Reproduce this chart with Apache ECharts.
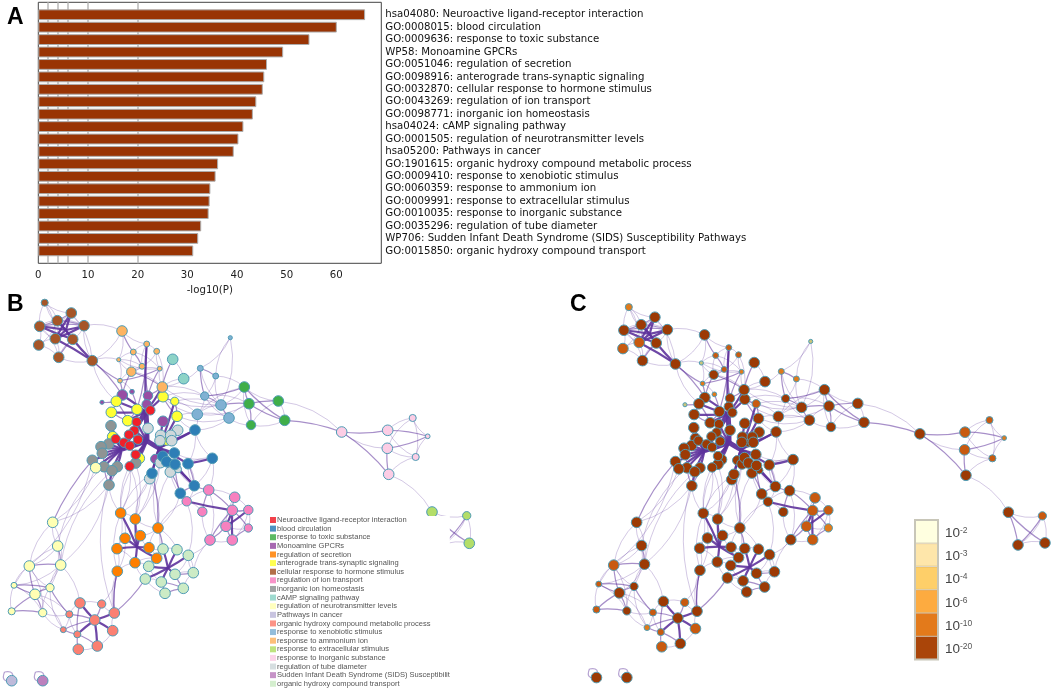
<!DOCTYPE html>
<html><head><meta charset="utf-8">
<style>html,body{margin:0;padding:0;background:#fff}#c{width:1052px;height:690px}</style>
<script src="https://cdn.jsdelivr.net/npm/echarts@6/dist/echarts.min.js"></script>
</head><body><div id="c"></div>
<script>
// ---------- Panel A ----------
const termLabels = [
'hsa04080: Neuroactive ligand-receptor interaction','GO:0008015: blood circulation','GO:0009636: response to toxic substance','WP58: Monoamine GPCRs','GO:0051046: regulation of secretion','GO:0098916: anterograde trans-synaptic signaling','GO:0032870: cellular response to hormone stimulus','GO:0043269: regulation of ion transport','GO:0098771: inorganic ion homeostasis','hsa04024: cAMP signaling pathway','GO:0001505: regulation of neurotransmitter levels','hsa05200: Pathways in cancer','GO:1901615: organic hydroxy compound metabolic process','GO:0009410: response to xenobiotic stimulus','GO:0060359: response to ammonium ion','GO:0009991: response to extracellular stimulus','GO:0010035: response to inorganic substance','GO:0035296: regulation of tube diameter','WP706: Sudden Infant Death Syndrome (SIDS) Susceptibility Pathways','GO:0015850: organic hydroxy compound transport'];
const logP = [65.8,60.1,54.6,49.3,46.05,45.5,45.2,43.9,43.2,41.3,40.3,39.35,36.2,35.7,34.65,34.5,34.3,32.8,32.2,31.2];
const thresholds = [2,4,6,10,20];
const xTicks = [0,10,20,30,40,50,60];

// ---------- Network legend ----------
const clusterNames = ['Neuroactive ligand-receptor interaction','blood circulation','response to toxic substance','Monoamine GPCRs','regulation of secretion','anterograde trans-synaptic signaling','cellular response to hormone stimulus','regulation of ion transport','inorganic ion homeostasis','cAMP signaling pathway','regulation of neurotransmitter levels','Pathways in cancer','organic hydroxy compound metabolic process','response to xenobiotic stimulus','response to ammonium ion','response to extracellular stimulus','response to inorganic substance','regulation of tube diameter','Sudden Infant Death Syndrome (SIDS) Susceptibilit','organic hydroxy compound transport'];
const clusterColors = ['#f0202a','#2e7eb6','#3fae49','#984ea3','#ff7f00','#ffff33','#a65628','#f781bf','#8f9494','#8dd3c7','#ffffb3','#bebada','#fb8072','#80b1d3','#fdb462','#b3de69','#fccde5','#cfd8da','#bc80bd','#ccebc5'];

// ---------- Term nodes: [x, y, gene-set size, significance level] by cluster ----------
const monoamine = [[122.3,395,9,5],[148,395.7,8,5],[132,391.7,4,3],[146.7,404.3,8,5],[163,421.3,9,5],[102,402.3,3.5,1],[155.3,459,8,5]];
const synaptic = [[116.3,401.3,9,5],[163,396.7,9,5],[174.7,401.3,7,4],[111.3,412.3,9,5],[137,409.3,9,5],[177,416.3,9,5],[127.7,420.7,9,5],[112.7,436.7,9,5],[166.7,440,9,5],[139.3,458.3,9,5]];
const brownHormone = [[44.7,302.7,6,3],[71.3,313,9,5],[84,325.7,9,5],[57.3,320.7,9,5],[39.7,326.3,9,5],[55.3,338.7,9,4],[72.7,339.3,9,5],[38.7,345,9,4],[58.7,357.3,9,5],[92.3,360.7,9,5]];
const ammonium = [[122,331,9,5],[146.7,344,5,4],[133.3,352,5,4],[156.7,351.3,5,4],[118.7,359.7,3.5,1],[159.7,368.7,4,3],[142,366.3,5,4],[131.3,371.7,8,5],[120,380.7,4,3],[162.3,387,9,5]];
const camp = [[172.7,359.3,9,5],[183.7,378.7,9,5]];
const xenobiotic = [[230.3,337.7,3.5,1],[200.3,368.3,5,3],[215.7,376,5,3],[204.7,396,7,5],[221,405,9,5],[197.3,414.3,9,5],[229,418,9,5]];
const toxic = [[244.3,387,9,5],[249,403.7,9,5],[251,425,8,5],[278.3,401,9,5],[284.7,420.3,9,5]];
const ionHomeo = [[111,425.7,9,5],[108.7,444,9,5],[101,446.7,9,5],[102.3,453.3,9,5],[92.3,460.3,9,5],[104,466.7,9,5],[117.3,466.7,9,5],[112,470.7,9,5],[135.7,463,9,5],[109,485,9,5]];
const ligand = [[150.3,410.3,8,5],[136.7,422,8,5],[134.3,430.7,8,5],[129,434.7,8,5],[138,439.7,8,5],[115.7,439,8,5],[124,442.7,8,5],[129.7,445.7,8,5],[135.7,454.7,8,5],[129.7,466.3,8,5]];
const tube = [[148,428.3,9,5],[177.7,430.3,9,5],[160.7,435.3,9,5],[170.7,435.3,9,5],[160,440.7,9,5],[171.7,440.7,9,5],[160.3,462.7,9,5],[170.3,472,9,5],[178,469.3,6,5],[149.7,478.7,9,5]];
const neurotrans = [[95.7,467.7,9,5],[52.7,522.3,9,5],[57.7,546,9,5],[29.3,566,9,4],[60.7,565,9,5],[14,585.3,5,4],[50,587.7,7,5],[35,594.3,9,5],[11.7,611.3,6,4],[42.7,612.7,7,5]];
const blood = [[195,430,9,5],[174.3,453,9,5],[162.7,456.3,9,5],[166.7,461.7,9,5],[175,464.3,9,5],[188,463.7,9,5],[212.3,458.3,9,5],[152,473.3,9,5],[194.3,485.7,9,5],[180.3,493.3,9,5]];
const ionTransport = [[208.7,490,9,5],[234.7,497.3,9,4],[186.7,501.3,8,5],[202.3,511.7,8,5],[232.3,510.3,9,4],[248.3,510,8,4],[226,526.3,9,4],[248.3,528,7,3],[210,540,9,5],[232.3,540,9,4]];
const secretion = [[120.7,513,9,5],[135.3,519,9,5],[158,528,9,5],[125,538.3,9,5],[140.3,535.7,9,5],[117,548.7,9,5],[149,547.7,9,5],[156.7,558.3,9,5],[135,562.7,9,5],[117.3,571.3,9,5]];
const hydroxyTransport = [[163,549,9,5],[177,549.7,9,5],[188.3,555.3,9,5],[148.7,566.3,9,5],[175,574.3,9,5],[193.3,572.7,9,5],[145.3,579,9,5],[161.3,582,9,5],[183.3,588.3,9,5],[165,593.3,9,5]];
const hydroxyMetab = [[80,603,9,5],[101.7,604,7,4],[114.3,613,9,5],[69.3,614.3,6,4],[94.7,620,9,5],[112.7,630.7,9,4],[63.3,629.7,5,3],[77.3,634.3,6,4],[97.3,646,9,5],[78.3,649.3,9,4]];
const inorganic = [[341.7,432,9,5],[387.7,430.3,9,4],[387.3,448.3,9,4],[388.7,474.3,9,5],[412.7,418,6,4],[427.7,436.3,4,3],[415.7,457,6,4]];
const extracell = [[432,512,9,5],[466.7,515.7,7,4],[469.3,543.3,9,5],[441.8,545.4,9,5]];
const cancer = [[11.7,680.7,9,5]];
const sids = [[42.7,680.7,9,5]];
const bundlePoints = [[147,441],[159,448],[122,449],[146,412],[137,547],[168,568],[66,330],[4.5,672],[35.5,672]];
const sizeScale = 1.18;

// id prefix, node table, cluster index (draw order)
const clusterTables = [['f',monoamine,3],['g',synaptic,5],['a',brownHormone,6],['b',ammonium,14],['c',camp,9],['d',xenobiotic,13],['e',toxic,2],['i',ionHomeo,8],['j',tube,17],['h',ligand,0],['k',neurotrans,10],['l',blood,1],['m',ionTransport,7],['n',secretion,4],['o',hydroxyTransport,19],['q',hydroxyMetab,12],['p',inorganic,16],['r',extracell,15],['s',cancer,11],['t',sids,18]];

// ---------- Edges ----------
const faintLinks = `a0-a1 a0-a3 a0-a4 a0-a5 a1-a2 a1-a3 a2-a3 a2-a6 a3-a4 a3-a5 a4-a5 a4-a7 a5-a7 a5-a8 a6-a8 a7-a8 a8-a9 a1-a9 a2-a9 a4-a8 a0-a6 a3-a7
a9-b0 a2-b0 b0-b1 b0-b4 b1-b2 b1-b3 b1-b6 b2-b5 b2-b7 b3-b6 b3-b5 b3-b9 b4-b5 b4-b6 b4-b7 b4-b8 b5-b7 b6-b7 b6-b8 b8-f2 b5-b9 b7-b9 a9-g0 a9-b4 b2-b4
c0-c1 c1-b9 d0-d1 d0-d2 d0-d4 d1-d4 d2-d3 d2-d4 d3-d5 d4-d5 d5-d6 d3-d6 d1-b9 d3-b9 d4-b9 d5-g2 d5-g1 d3-g1 d6-g5 d4-g2 d6-e1 d6-e2 d5-e0 d4-e0 d2-e0 d5-e1 d3-e1 d5-g5 d4-g1
e0-e3 e2-e3 e2-e4 e3-e4 e0-e2 e3-p0
l0-l6 l6-l1 l8-l5 l6-l8 l0-d6 l0-l5 l5-l8 l8-m2 j8-l8 l6-m0 l0-d5 l5-l6 g5-l0
h9-n0 i9-n0 i8-n1 j9-n1 j9-n2 j6-n2 l7-n1 h8-n0 h9-n1 j7-m2 j9-n0 i8-n0 j6-n1 l7-n0 l9-n2 j7-n2
i9-k1 i7-k4 k0-k1 i5-k2 i4-k3 i7-q2 i9-k4
k1-k3 k2-k3 k2-k5 k4-k5 k4-k6 k4-k7 k6-k9 k3-k9 k3-k6 k5-k9 k5-k8 k2-k6 k3-k5 k1-k4 k1-k2
k4-q0 k6-q6 k7-q6 k9-q6 k7-q3 k9-q3
q0-q1 q0-q3 q3-q6 q2-q5 q5-q8 q1-q2 q8-q9 q3-q7 q2-n9 q1-n9
m2-m3 m3-m8 m1-m5 m6-m7 m5-m7 m8-m9 m0-m1 m0-m2 m5-m9 m1-m6 m8-o2 m8-o5 m2-o2 m2-n2 m5-m4 m8-m0
n0-n5 n0-n9 n5-n9 n8-n9 n2-n4 n2-n6 n2-n7 n1-n2 n0-n1 n3-n5 n5-n8 n7-n8 n6-n7 n4-n6 n0-n3 n1-n4 n3-n9 n7-o0 n7-o3 n6-o0 n8-o3 n8-o6 n2-o1
o5-o8 o5-o2 o1-o2 o0-o1 o3-o6 o6-o7 o0-o3 o4-o5 o3-o7 o2-o4 o6-o9 o2-o5
p0-p2 p1-p4 p1-p6 p2-p4 p2-p6 p3-p6 p4-p5 p4-p6 p5-p6 p3-r0 r0-r1 r1-r2 r2-r3 r1-r3`.split(/\s+/);
const mediumLinks = `a6-a8 a1-a4 a2-a4 a3-a2
b0-b2 b1-g4 b1-f1 b2-b6 b8-b5 b9-f1 b5-f1 b8-f0 b7-f0 b7-b9 a9-b8 a9-f0 f5-g0 f2-g4 g1-g2 g2-g5 g1-g5 g0-g3
c0-b9 d1-d2 d1-d3 d3-d4 d4-d6 d4-e1 e0-e1 e1-e2 e0-e4 e1-e3 e1-e4 e4-p0 d3-e0
i9-i5 i9-i6 i3-i5 i4-i5 i5-i7 i6-i7 i1-i3 i0-i1 l5-l8 l8-m0 l9-l8 l7-j9 l7-n2 l4-l9 j7-l9 l3-j8 g0-g6 g3-g6 g4-g6 g6-h1 g4-h0 f3-h0 f1-f3 f0-g0 h1-h4 h3-h6 h8-h9 h7-h8 i8-h8
i4-k1 k2-k4 k5-k7 k7-k9 k7-k8 k8-k9 k3-k7 k3-k4 k6-k7 k5-k6 k6-q3 q6-q4
q0-q7 q3-q4 q6-q7 q1-q4 q7-q9 q7-q8 q2-o6 q2-n9
m0-m3 m0-m4 m1-m4 m4-m7 m6-m9 m6-m8 m7-m9 m8-m4 m4-m5
n2-o0 n9-q2 o5-o4 o4-o8 o7-o9 o8-o9 o7-o8
p0-p1 p0-p3 p2-p3 p1-p5 p2-p5 r0-r3 r0-r2 r1-r3`.split(/\s+/);
const strongLinks = `a1-a5 a2-a5 a4-a6 a3-a6 a6-a9 a5-a9
z3-f0 z3-f1 z3-f3 z3-g0 z3-g1 z3-g3 z3-g4 z3-h0 z3-g6 z3-b1 z3-b9 z1-f4 z1-g5 z1-g8 z1-g2
z0-h1 z0-h2 z0-h3 z0-h4 z0-h6 z0-h7 z0-h8 z0-h9 z0-j0 z0-i8 z0-g9 z2-h5 z2-i0 z2-i1 z2-i2 z2-i3 z2-i4 z2-i5 z2-i6 z2-i7 z2-g7 z2-k0 z2-h3
z1-j1 z1-j2 z1-j3 z1-j4 z1-j5 z1-j6 z1-j7 z1-j9 z1-l0 z1-l1 z1-l2 z1-l3 z1-l4 z1-l5 z1-l7 z1-f6 z1-l8
l0-j5 l5-l6 l8-l4 i9-i7
q4-q0 q4-q2 q4-q5 q4-q7 q4-q8
m2-m4 m4-m6 m4-m9 m5-m6
z4-n0 z4-n1 z4-n3 z4-n4 z4-n5 z4-n6 z4-n7 z4-n8
z5-o0 z5-o1 z5-o2 z5-o3 z5-o4 z5-o6 z5-o7
z6-a1 z6-a2 z6-a3 z6-a4 z6-a5 z6-a6`.split(/\s+/);
const trunkLinks = ['z0-z1','z3-z0','z2-z0','z2-z3'];
const selfLoopLinks = ['s0-z7','t0-z8'];
const levelColors = ['#ffffe0','#c9c47a','#fdab40','#e07a1b','#c85a10','#9c3a05'];

// ---------- Colour bar ----------
const scaleExponents = ['-2','-3','-4','-6','-10','-20'];
const scaleColors = ['#ffffe0','#fee6aa','#fecf69','#fdab40','#e37a1b','#aa4509'];
const scaleCells = [1,1,1,1,1,1];

// ---------- Build ----------
function buildNodes(panel){
  const out=[];
  clusterTables.forEach(([p,t,cat])=>{
    t.forEach((r,i)=>{
      const n={name:p+i,value:[r[0],r[1]],symbolSize:r[2]*sizeScale};
      if(panel==='B') n.category=cat;
      else n.itemStyle={color:levelColors[r[3]]};
      out.push(n);
    });
  });
  bundlePoints.forEach((r,i)=>out.push({name:'z'+i,value:r,symbolSize:0.1,itemStyle:{opacity:0,borderWidth:0},...(panel==='B'?{category:0}:{})}));
  return out;
}
function linkRows(list,width,opacity,curve){
  return list.map((s,i)=>{
    const[a,b]=s.split('-');
    return {source:a,target:b,lineStyle:{width,opacity,curveness:i%2?curve:-curve,color:'#5e339c'}};
  });
}
const allLinks=[...linkRows(faintLinks,1,0.27,0.18),...linkRows(mediumLinks,1.2,0.55,0.08),...linkRows(strongLinks,2.2,0.9,0.03),...linkRows(trunkLinks,5,0.95,0.02),
  ...selfLoopLinks.flatMap(s=>{const[a,b]=s.split('-');return [1,-1].map(k=>({source:a,target:b,lineStyle:{width:1.2,opacity:0.45,curveness:0.9*k,color:'#5e339c'}}));})];
const nodeBorder={borderColor:'#4f9cb5',borderWidth:1};
function graph(panel,axis){
  return {type:'graph',coordinateSystem:'cartesian2d',xAxisIndex:axis,yAxisIndex:axis,silent:true,animation:false,z:2,
    layout:'none',roam:false,label:{show:false},edgeSymbol:['none','none'],itemStyle:nodeBorder,
    ...(panel==='B'?{categories:clusterNames.map((n,i)=>({name:n,itemStyle:{color:clusterColors[i]}}))}:{}),
    data:buildNodes(panel),links:allLinks.map(l=>({...l}))};
}
const rowLabels=['',...termLabels,''];
const chart=echarts.init(document.getElementById('c'),null,{renderer:'canvas'});
chart.setOption({
  animation:false,backgroundColor:'#fff',
  title:[['A',7,6.5],['B',7,293.5],['C',570,293.5]].map(([t,l,tp])=>({text:t,left:l,top:tp,padding:0,textStyle:{fontFamily:'Liberation Sans',fontWeight:'bold',fontSize:23,color:'#000'}})),
  legend:{orient:'vertical',left:268,top:516,padding:[0,0,0,2],backgroundColor:'#fff',selectedMode:false,z:5,
    itemWidth:6,itemHeight:6,itemGap:0.62,icon:'rect',data:clusterNames,
    itemStyle:{borderWidth:0,opacity:0.85},
    textStyle:{fontFamily:'Liberation Sans',fontSize:7.55,color:'#555',lineHeight:8,padding:[0,0,0,-4]}},
  grid:[
    {left:38.3,width:343,top:2.3,height:261,show:true,borderColor:'#444',borderWidth:1,backgroundColor:'transparent'},
    {left:915,width:23,top:520,height:139.5,show:true,borderColor:'#c8c6b8',borderWidth:2,z:3},
    {left:0,right:0,top:0,bottom:0},
    {left:0,right:0,top:0,bottom:0}
  ],
  xAxis:[
    {gridIndex:0,type:'value',min:0,max:69.06,interval:10,splitLine:{show:false},
     axisLine:{lineStyle:{color:'#333'}},axisTick:{customValues:xTicks,length:3.5,lineStyle:{color:'#333'}},
     axisLabel:{customValues:xTicks,fontFamily:'DejaVu Sans',fontSize:10.2,color:'#222',margin:7},
     name:'-log10(P)',nameLocation:'middle',nameGap:22,nameTextStyle:{fontFamily:'DejaVu Sans',fontSize:10.2,color:'#222'}},
    {gridIndex:1,type:'value',min:0,max:1,show:false},
    {gridIndex:2,type:'value',min:0,max:1052,show:false},
    {gridIndex:3,type:'value',min:-596.9,max:476.5,show:false}
  ],
  yAxis:[
    {gridIndex:0,type:'category',inverse:true,boundaryGap:false,position:'right',data:rowLabels,
     axisLine:{show:false},axisTick:{show:false},splitLine:{show:false},
     axisLabel:{interval:0,align:'left',margin:4,padding:[5,0,0,0],fontFamily:'DejaVu Sans',fontSize:10.2,color:'#111'}},
    {gridIndex:1,type:'category',inverse:true,position:'right',data:scaleExponents,
     axisLine:{show:false},axisTick:{show:false},
     axisLabel:{margin:7,align:'left',padding:[3,0,0,0],formatter:v=>'{b|10}{s|'+v+'}',
       rich:{b:{fontFamily:'Liberation Sans',fontSize:13.5,color:'#444'},s:{fontFamily:'Liberation Sans',fontSize:8.5,color:'#555',verticalAlign:'top',padding:[0,0,3,0]}}}},
    {gridIndex:2,type:'value',min:0,max:690,inverse:true,show:false},
    {gridIndex:3,type:'value',min:-10.7,max:693.4,inverse:true,show:false}
  ],
  series:[
    {type:'bar',xAxisIndex:0,yAxisIndex:0,barWidth:10.8,z:3,silent:true,
     itemStyle:{color:'#993404',borderColor:'#adadad',borderWidth:1},
     data:[null,...logP,null],
     markLine:{silent:true,z:1,symbol:'none',label:{show:false},lineStyle:{color:'#b9b9b9',width:1.5,type:'solid'},
       data:thresholds.map(v=>({xAxis:v}))}},
    {type:'bar',xAxisIndex:1,yAxisIndex:1,barWidth:'100%',silent:true,
     data:scaleCells.map((v,i)=>({value:v,itemStyle:{color:scaleColors[i],borderColor:'rgba(120,100,60,0.25)',borderWidth:0.8}}))},
    graph('B',2),
    graph('C',3)
  ]
});
</script></body></html>
